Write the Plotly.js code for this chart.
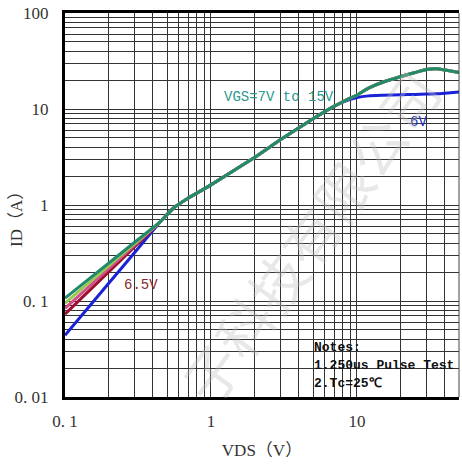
<!DOCTYPE html>
<html>
<head>
<meta charset="utf-8">
<script src="https://cdn.plot.ly/plotly-3.0.1.min.js"></script>
<style>html,body{margin:0;padding:0;background:#fff;}#chart{width:462px;height:464px;}</style>
</head>
<body>
<div id="chart"></div>
<script>
// Drain-source voltage (V)
const vds = [0.1, 0.2, 0.3, 0.45, 0.55, 0.7, 1, 2, 3, 5, 7, 8, 9, 10, 12, 15, 20, 25, 30, 35, 40, 50];
// Drain current (A) per gate voltage
const id_vgs7to15 = [0.107, 0.249, 0.409, 0.67, 0.92, 1.18, 1.62, 3.15, 4.8, 7.9, 10.7, 11.9, 13.0, 14.0, 16.5, 19.0, 21.8, 24.0, 25.8, 26.2, 25.5, 24.0];
const id_lightgreen = [0.095, 0.234, 0.396, 0.67, 0.92, 1.18, 1.62, 3.15, 4.8, 7.9, 10.7, 11.9, 13.0, 14.0, 16.5, 19.0, 21.8, 24.0, 25.8, 26.2, 25.5, 24.0];
const id_pink = [0.084, 0.218, 0.383, 0.67, 0.92, 1.18, 1.62, 3.15, 4.8, 7.9, 10.7, 11.9, 13.0, 14.0, 16.5, 19.0, 21.8, 24.0, 25.8, 26.2, 25.5, 24.0];
const id_vgs6p5 = [0.073, 0.202, 0.367, 0.67, 0.92, 1.18, 1.62, 3.15, 4.8, 7.9, 10.7, 11.9, 13.0, 14.0, 16.5, 19.0, 21.8, 24.0, 25.8, 26.2, 25.5, 24.0];
const id_vgs6 = [0.044, 0.154, 0.32, 0.67, 0.92, 1.18, 1.62, 3.15, 4.8, 7.9, 10.7, 11.8, 12.6, 13.2, 13.7, 13.9, 14.1, 14.2, 14.3, 14.4, 14.6, 15.0];

// Grid / tick values
const xGrid = [0.1,0.2,0.3,0.4,0.5,0.6,0.7,0.8,0.9,1,2,3,4,5,6,7,8,9,10,20,30,40];
const xLabels = {0.1:'0. 1', 1:'1', 10:'10'};
const yGrid = [0.01,0.02,0.03,0.04,0.05,0.06,0.07,0.08,0.09,0.1,0.2,0.3,0.4,0.5,0.6,0.7,0.8,0.9,1,2,3,4,5,6,7,8,9,10,20,30,40,50,60,70,80,90,100];
const yLabels = {0.01:'0. 01', 0.1:'0. 1', 1:'1', 10:'10', 100:'100'};

const mk = (y, color) => ({
  x: vds, y: y, type: 'scatter', mode: 'lines',
  line: {color: color, width: 3, shape: 'spline', smoothing: 0.5},
  hoverinfo: 'skip', showlegend: false
});

const data = [
  mk(id_vgs6, '#1a22d8'),
  mk(id_vgs6p5, '#9e1030'),
  mk(id_pink, '#d2508c'),
  mk(id_lightgreen, '#98c850'),
  mk(id_vgs7to15, '#228a6c')
];

const tickFont = {family: 'Liberation Serif, serif', size: 17, color: '#333'};
const noteFont = {family: 'Liberation Mono, monospace', size: 13, color: '#111'};
const titleFont = {family: 'Liberation Serif, Noto Sans CJK SC, serif', size: 17, color: '#333'};

const layout = {
  width: 462, height: 464,
  margin: {l: 65, r: 3, t: 13, b: 67},
  paper_bgcolor: '#fff', plot_bgcolor: '#fff',
  xaxis: {
    type: 'log', range: [-1, Math.log10(50)],
    tickvals: xGrid, ticktext: xGrid.map(v => xLabels[v] || ''),
    ticks: 'outside', ticklen: 7, tickcolor: 'rgba(0,0,0,0)',
    tickfont: tickFont,
    showgrid: true, gridcolor: '#333', gridwidth: 1,
    showline: true, linecolor: '#000', linewidth: 3, mirror: true,
    zeroline: false, automargin: false,
    title: {text: 'VDS（V）', font: titleFont, standoff: 14}
  },
  yaxis: {
    type: 'log', range: [-2, 2],
    tickvals: yGrid, ticktext: yGrid.map(v => yLabels[v] || ''),
    ticks: 'outside', ticklen: 10, tickcolor: 'rgba(0,0,0,0)',
    tickfont: tickFont,
    showgrid: true, gridcolor: '#333', gridwidth: 1,
    showline: true, linecolor: '#000', linewidth: 3, mirror: false,
    zeroline: false, automargin: false,
    title: {text: ''}
  },
  shapes: [
    {type: 'line', xref: 'paper', yref: 'paper', x0: 1, x1: 1, y0: 0, y1: 1, line: {color: '#444', width: 1}}
  ],
  annotations: [
    {xref: 'paper', yref: 'paper', x: -0.122, y: 0.474, xanchor: 'center', yanchor: 'middle', showarrow: false,
     textangle: -90, text: 'ID（A）', font: titleFont},
    {xref: 'paper', yref: 'paper', x: 0.398, y: 0.781, xanchor: 'left', yanchor: 'middle', showarrow: false,
     text: 'VGS=7V to 15V', font: {family: 'Liberation Mono, monospace', size: 14, color: '#2a9a90'}},
    {xref: 'paper', yref: 'paper', x: 0.871, y: 0.716, xanchor: 'left', yanchor: 'middle', showarrow: false,
     text: '6V', font: {family: 'Liberation Mono, monospace', size: 14, color: '#2030c0'}},
    {xref: 'paper', yref: 'paper', x: 0.145, y: 0.292, xanchor: 'left', yanchor: 'middle', showarrow: false,
     text: '6.5V', font: {family: 'Liberation Mono, monospace', size: 14, color: '#8b2a2a'}},
    {xref: 'paper', yref: 'paper', x: 0.627, y: 0.130, xanchor: 'left', yanchor: 'middle', showarrow: false,
     text: '<b>Notes:</b>', font: noteFont},
    {xref: 'paper', yref: 'paper', x: 0.627, y: 0.081, xanchor: 'left', yanchor: 'middle', showarrow: false,
     text: '<b>1.250us Pulse Test</b>', font: noteFont},
    {xref: 'paper', yref: 'paper', x: 0.627, y: 0.034, xanchor: 'left', yanchor: 'middle', showarrow: false,
     text: '<b>2.Tc=25℃</b>', font: noteFont},
    {xref: 'paper', yref: 'paper', x: 0.62, y: 0.42, xanchor: 'center', yanchor: 'middle', showarrow: false,
     textangle: -54, text: '子科技有限公司',
     font: {family: 'Noto Sans CJK SC, sans-serif', size: 56, color: 'rgba(190,190,190,0.35)'}}
  ]
};

Plotly.newPlot('chart', data, layout, {staticPlot: true, displayModeBar: false});
</script>
</body>
</html>
